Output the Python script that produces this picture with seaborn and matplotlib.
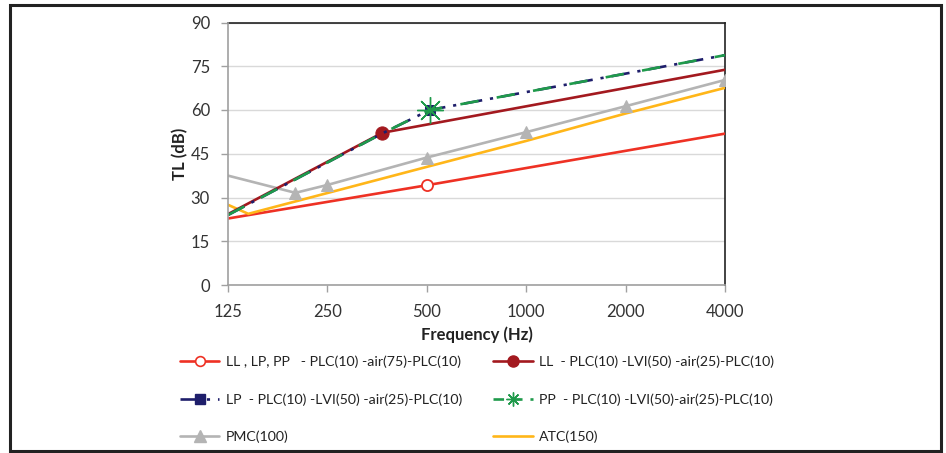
import matplotlib
matplotlib.use("Agg")
import matplotlib.pyplot as plt
import seaborn as sns
import pandas as pd
from matplotlib.patches import Rectangle
from matplotlib.lines import Line2D
from matplotlib.ticker import FixedLocator, FixedFormatter, NullLocator

# ---------------- data ----------------
freq_ticks = [125, 250, 500, 1000, 2000, 4000]
tick_labels = ["125", "250", "500", "1000", "2000", "4000"]

red_f = [125, 500, 4000]
red_tl = [22.8, 34.2, 51.9]

darkred_f = [125, 367, 4000]
darkred_tl = [24.3, 52.2, 73.8]

lp_f = [125, 367, 510, 4000]
lp_tl = [24.0, 52.0, 60.0, 78.8]

pp_f = [125, 367, 510, 4000]
pp_tl = [24.0, 52.0, 60.0, 78.8]

pmc_f = [125, 200, 250, 500, 1000, 2000, 4000]
pmc_tl = [37.5, 31.6, 34.3, 43.7, 52.4, 61.3, 70.3]

atc_f = [125, 144, 500, 1000, 2000, 4000]
atc_tl = [27.5, 24.4, 40.5, 49.4, 58.8, 67.6]

labels = {
    "red": "LL , LP, PP   - PLC(10) -air(75)-PLC(10)",
    "darkred": "LL  - PLC(10) -LVI(50) -air(25)-PLC(10)",
    "lp": "LP  - PLC(10) -LVI(50) -air(25)-PLC(10)",
    "pp": "PP  - PLC(10) -LVI(50)-air(25)-PLC(10)",
    "pmc": "PMC(100)",
    "atc": "ATC(150)",
}

# ---------------- style ----------------
sns.set_theme(style="white")
plt.rcParams["font.family"] = ["Lato", "DejaVu Sans"]

fig = plt.figure(figsize=(9.46, 4.53), dpi=100)
ax = fig.add_axes([228 / 946, 1 - 285 / 453, (725 - 228) / 946, (285 - 22.5) / 453])

C_RED = "#ee3124"
C_DRED = "#a3191f"
C_NAVY = "#1e1e6b"
C_GREEN = "#1f9a4b"
C_GREY = "#b4b4b4"
C_YEL = "#ffb619"
LW = 1.9

def draw(f, tl, **kw):
    df = pd.DataFrame({"f": f, "tl": tl})
    sns.lineplot(data=df, x="f", y="tl", ax=ax, sort=False, estimator=None, **kw)

draw(red_f, red_tl, color=C_RED, lw=LW, marker="o", markevery=[1], markersize=8,
     markerfacecolor="white", markeredgecolor=C_RED, markeredgewidth=1.3, zorder=3)
draw(atc_f, atc_tl, color=C_YEL, lw=LW, zorder=3)
draw(pmc_f, pmc_tl, color=C_GREY, lw=LW, marker="^", markevery=[1, 2, 3, 4, 5, 6],
     markersize=9, markerfacecolor=C_GREY, markeredgecolor=C_GREY, zorder=3)
draw(darkred_f, darkred_tl, color=C_DRED, lw=LW, marker="o", markevery=[1], markersize=9.5,
     markerfacecolor=C_DRED, markeredgecolor=C_DRED, zorder=4)
draw(lp_f, lp_tl, color=C_NAVY, lw=LW, dashes=(7, 3, 1.2, 3), marker="s", markevery=[2],
     markersize=7, markerfacecolor=C_NAVY, markeredgecolor=C_NAVY, zorder=5)
draw(pp_f, pp_tl, color=C_GREEN, lw=LW, dashes=(7, 7), marker=(8, 2, 0), markevery=[2],
     markersize=19, markeredgewidth=1.0, markeredgecolor=C_GREEN, zorder=6)

# ---------------- axes ----------------
ax.set_xscale("log", base=2)
ax.set_xlim(125, 4000)
ax.set_ylim(0, 90)
ax.xaxis.set_major_locator(FixedLocator(freq_ticks))
ax.xaxis.set_major_formatter(FixedFormatter(tick_labels))
ax.xaxis.set_minor_locator(NullLocator())
ax.set_yticks(range(0, 91, 15))

ax.yaxis.grid(True, color="#d9d9d9", lw=1.0)
ax.xaxis.grid(False)
ax.set_axisbelow(True)

for s in ["top", "right"]:
    ax.spines[s].set_color("#222222")
    ax.spines[s].set_linewidth(1.2)
for s in ["left", "bottom"]:
    ax.spines[s].set_color("#a0a0a0")
    ax.spines[s].set_linewidth(1.2)
    ax.spines[s].set_zorder(7)

ax.tick_params(axis="x", which="major", direction="out", length=5, width=1, color="#a0a0a0",
               labelsize=12, labelcolor="#333333", pad=9, bottom=True)
ax.tick_params(axis="y", which="major", direction="out", length=5, width=1, color="#a0a0a0",
               labelsize=12, labelcolor="#333333", pad=8, left=True)

ax.set_xlabel("Frequency (Hz)", fontsize=12, fontweight="bold", color="#222222", labelpad=4)
ax.set_ylabel("TL (dB)", fontsize=12, fontweight="bold", color="#222222", labelpad=2)

# ---------------- legend ----------------
leg_handles = [
    Line2D([], [], color=C_RED, lw=LW, marker="o", markersize=7, markerfacecolor="white",
           markeredgecolor=C_RED, markeredgewidth=1.2),
    Line2D([], [], color=C_NAVY, lw=LW, dashes=(7, 3, 1.2, 3), marker="s", markersize=7,
           markerfacecolor=C_NAVY),
    Line2D([], [], color=C_GREY, lw=LW, marker="^", markersize=8, markerfacecolor=C_GREY,
           markeredgecolor=C_GREY),
    Line2D([], [], color=C_DRED, lw=LW, marker="o", markersize=8, markerfacecolor=C_DRED,
           markeredgecolor=C_DRED),
    Line2D([], [], color=C_GREEN, lw=LW, dashes=(4, 3), marker=(8, 2, 0), markersize=10,
           markeredgecolor=C_GREEN, markeredgewidth=1.0),
    Line2D([], [], color=C_YEL, lw=LW),
]
leg_labels = [labels["red"], labels["lp"], labels["pmc"],
              labels["darkred"], labels["pp"], labels["atc"]]
leg = fig.legend(leg_handles, leg_labels, ncol=2, loc="upper left",
                 bbox_to_anchor=(174 / 946, 1 - 350 / 453), frameon=False,
                 fontsize=10.2, handlelength=2.8, handletextpad=0.45,
                 labelspacing=1.75, columnspacing=2.2, borderaxespad=0)
for t in leg.get_texts():
    t.set_color("#222222")

# ---------------- outer frame ----------------
fig.patches.append(Rectangle((10 / 946, 1 - 451 / 453), (941 - 10) / 946, (451 - 5) / 453,
                             transform=fig.transFigure, fill=False, edgecolor="#222222",
                             linewidth=2.2, zorder=10))

fig.savefig("out.png", dpi=100, facecolor="white")
